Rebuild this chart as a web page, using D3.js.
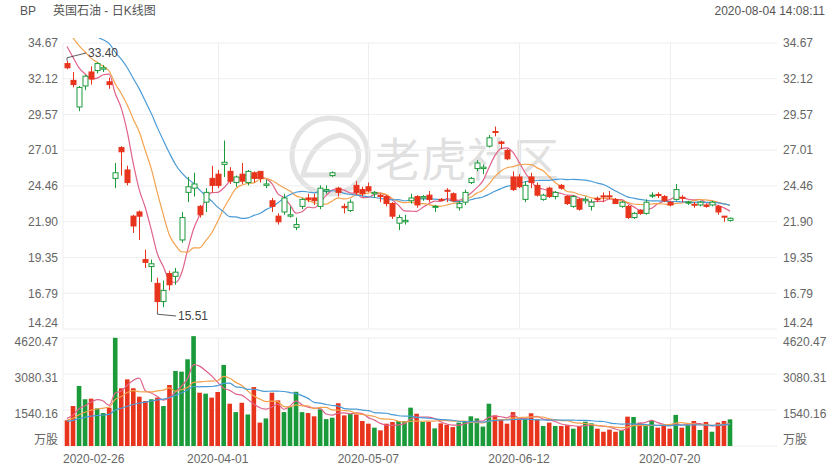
<!DOCTYPE html>
<html>
<head>
<meta charset="utf-8">
<script src="https://cdn.jsdelivr.net/npm/d3@7"></script>
<style>
  body { margin: 0; background: #fff; }
  text { font-family: Arial, "Liberation Sans", "Noto Sans CJK SC", sans-serif; }
</style>
</head>
<body>
<svg id="chart" width="840" height="470"></svg>
<script>
// daily candles, 2020-02-26 .. 2020-08-03
const opens = [33.2,32.0,30.1,31.6,32.6,32.7,32.8,31.9,25.0,27.2,25.6,22.3,22.6,19.2,18.7,17.5,16.2,18.2,18.0,20.6,
  24.0,24.3,23.0,23.3,25.0,25.3,26.0,25.5,24.7,25.3,24.7,25.4,25.5,24.5,23.4,22.3,22.6,22.3,21.5,23.0,
  23.6,23.6,23.0,24.1,25.2,24.3,23.0,22.7,24.5,24.2,24.4,23.9,23.8,23.7,23.2,21.8,21.9,23.4,23.7,23.6,
  23.8,22.95,23.5,24.15,23.9,22.9,23.3,24.7,25.7,25.7,27.3,28.35,27.6,27.0,25.1,25.1,23.5,25.1,24.5,23.5,
  24.3,23.7,24.5,23.7,23.0,23.5,23.4,23.0,23.55,23.75,23.75,23.5,23.0,23.0,22.2,22.7,22.5,23.75,23.85,23.7,
  23.3,23.5,23.65,23.25,23.15,23.1,23.1,23.1,23.0,22.3,22.0];
const highs = [33.4,32.6,31.6,32.4,33.0,33.3,33.1,32.2,26.1,27.3,25.9,22.4,22.7,19.9,19.2,17.9,17.7,18.4,18.6,22.6,
  25.1,25.4,23.1,24.3,25.9,25.6,27.7,25.8,25.2,26.1,25.6,25.5,25.5,24.9,23.6,22.5,23.9,23.0,22.2,23.6,
  23.9,23.9,24.5,24.5,25.5,24.4,23.2,23.5,24.8,24.4,24.7,24.1,23.9,23.8,23.3,22.4,22.4,23.9,23.8,23.8,
  24.1,23.1,23.6,24.3,24.0,23.4,24.2,25.1,26.3,26.0,28.1,28.7,27.7,27.1,25.5,25.3,24.8,25.4,24.7,23.9,
  24.4,24.1,24.6,23.8,23.8,23.6,23.7,23.5,23.7,24.0,24.1,23.6,23.4,23.1,22.6,22.8,23.5,24.0,24.0,23.8,
  23.4,24.6,23.8,23.4,23.3,23.4,23.2,23.4,23.1,22.3,22.2];
const lows = [32.8,31.5,29.8,31.3,31.7,32.5,32.6,31.4,24.3,25.2,24.5,21.1,20.6,18.6,17.6,15.51,15.8,17.0,17.4,20.4,
  23.3,23.7,22.2,22.6,24.0,24.3,25.1,24.6,24.4,24.6,24.5,24.7,24.7,24.3,22.6,21.7,22.4,22.2,21.3,22.8,
  23.3,23.1,22.8,23.9,25.1,23.7,22.5,22.6,23.8,23.7,24.0,23.6,23.3,23.0,22.1,21.3,21.7,23.2,22.9,23.4,
  23.3,22.6,23.4,23.3,23.3,22.7,23.1,24.6,25.5,25.3,27.2,28.0,27.1,26.3,24.1,24.3,23.3,24.3,23.7,23.4,
  23.6,23.5,24.2,23.1,22.9,22.7,23.2,22.7,23.3,23.3,23.5,23.2,22.9,22.1,22.1,22.4,22.4,23.6,23.6,23.3,
  23.0,23.4,23.3,23.1,22.9,23.0,22.9,23.0,22.4,21.9,21.9];
const closes = [32.9,31.7,31.5,32.3,32.1,33.2,32.9,31.7,25.4,26.9,24.7,21.6,22.3,19.0,18.9,16.2,17.0,17.4,18.3,22.2,
  24.4,24.6,22.4,24.0,24.5,24.5,26.15,24.8,25.1,24.8,25.5,25.0,25.0,24.6,23.0,21.9,23.6,22.4,21.7,23.5,
  23.5,23.4,24.3,24.2,25.4,24.0,22.9,23.3,24.0,23.9,24.1,24.0,23.7,23.2,22.3,22.2,22.0,23.6,23.1,23.7,
  23.5,23.0,23.45,24.1,23.4,23.2,24.0,25.0,26.1,25.8,27.9,28.3,27.5,26.4,24.2,24.4,24.5,24.7,23.8,23.8,
  23.7,24.0,24.3,23.2,23.7,22.8,23.5,23.3,23.5,23.7,23.7,23.2,23.3,22.2,22.5,22.5,23.3,23.8,23.8,23.4,
  23.1,24.2,23.6,23.3,23.1,23.3,23.0,23.3,22.6,22.25,22.15];
// volume, 万股
const volumes = [1100,1710,2570,2000,2025,1610,1410,1640,4630,2470,2850,2470,2110,1925,2000,2070,1710,2610,3210,3180,
  3710,4700,2280,2240,2070,2310,3470,1810,1450,1850,1350,2520,1000,1180,2280,1950,1450,1670,2320,1450,
  1410,1270,1570,1150,1210,1830,1310,1380,1350,1070,955,785,670,955,1030,1070,1070,1640,1380,1030,
  1040,755,970,910,810,1000,1070,1270,1180,830,1810,1310,1130,955,1450,1180,1180,1400,1140,855,
  1000,855,855,885,740,855,1040,970,740,610,700,610,670,1255,1240,1000,900,1070,785,855,
  740,1330,785,900,1070,685,1030,610,1000,1070,1140];
// sessions before 2020-02-26, only feed the moving averages
const prevCloses = [36.6,36.9,37.1,37.3,37.0,36.9,37.2,37.4,37.1,36.9,37.0,37.1,36.8,36.5,36.2,35.6,35.2,34.5,33.9];
const prevVolumes = [980,1050,1010,900,1120,990,1060,940,1000,1080,970,1030,950,1100,1150,1020,1200,1350,1250];

const holidays = ['2020-04-10', '2020-05-25', '2020-07-03'];
const dateLabels = ['2020-02-26', '2020-04-01', '2020-05-07', '2020-06-12', '2020-07-20'];
const priceTicks = [14.24, 16.79, 19.35, 21.90, 24.46, 27.01, 29.57, 32.12, 34.67];
const volTicks = [1540.16, 3080.31, 4620.47];
const maPeriods = [5, 10, 20];
const maColors = ['#e0638a', '#f4a24e', '#4a9bd6'];

const UP = '#1b9a3a', DOWN = '#e8341c', GRID = '#eeeeee', LABEL = '#666';

// trading calendar
const fmt = d3.timeFormat('%Y-%m-%d');
const dates = [];
for (let d = new Date(2020, 1, 26); dates.length < closes.length; d.setDate(d.getDate() + 1)) {
    const s = fmt(d);
    if (d.getDay() !== 0 && d.getDay() !== 6 && !holidays.includes(s)) dates.push(s);
}

const movingAvg = (prev, vals, n) => {
    const all = prev.concat(vals);
    return vals.map((v, i) => d3.mean(all.slice(prev.length + i - n + 1, prev.length + i + 1)));
};

const svg = d3.select('#chart');
const left = 63, right = 777;
const x = d3.scaleLinear().domain([0, closes.length - 1]).range([67, 730]);
const yP = d3.scaleLinear().domain([14.24, 34.67]).range([329, 43]);
const yV = d3.scaleLinear().domain([0, 4620.47]).range([446, 338]);

// header
svg.append('text').attr('x', 20).attr('y', 15).attr('font-size', 12).attr('fill', '#555').text('BP');
svg.append('text').attr('x', 53).attr('y', 15).attr('font-size', 12).attr('fill', '#555')
    .attr('font-family', '"Noto Sans CJK SC", sans-serif').text('英国石油 - 日K线图');
svg.append('text').attr('x', 825).attr('y', 15).attr('font-size', 12).attr('fill', '#555')
    .attr('text-anchor', 'end').text('2020-08-04 14:08:11');

// watermark
const wm = svg.append('g').attr('opacity', 0.16);
wm.append('circle').attr('cx', 330).attr('cy', 156).attr('r', 38).attr('fill', 'none').attr('stroke', '#555').attr('stroke-width', 5);
wm.append('path').attr('d', 'M303,175 Q312,140 340,135 Q362,140 358,162 L350,175 Z').attr('fill', 'none').attr('stroke', '#555').attr('stroke-width', 5);
wm.append('text').attr('x', 375).attr('y', 176).attr('font-size', 46).attr('fill', '#444')
    .attr('font-family', '"Noto Sans CJK SC", sans-serif').text('老虎社区');

// grids
const grid = svg.append('g').attr('stroke', GRID).attr('stroke-width', 1);
priceTicks.forEach(t => grid.append('line').attr('x1', left).attr('x2', right).attr('y1', yP(t)).attr('y2', yP(t)));
[0].concat(volTicks).forEach(t => grid.append('line').attr('x1', left).attr('x2', right).attr('y1', yV(t)).attr('y2', yV(t)));
dateLabels.forEach((s, k) => {
    const xx = k === 0 ? left : Math.round(x(dates.indexOf(s))) + 0.5;
    grid.append('line').attr('x1', xx).attr('x2', xx).attr('y1', yP(34.67)).attr('y2', yP(14.24));
    grid.append('line').attr('x1', xx).attr('x2', xx).attr('y1', yV(4620.47)).attr('y2', yV(0));
});

// axis labels
const axisText = (xx, yy, txt, anchor) => svg.append('text').attr('x', xx).attr('y', yy)
    .attr('font-size', 12).attr('fill', LABEL).attr('text-anchor', anchor).attr('dy', '0.35em').text(txt);
priceTicks.forEach(t => {
    const yy = Math.min(yP(t), 323);
    axisText(58, yy, t.toFixed(2), 'end');
    axisText(783, yy, t.toFixed(2), 'start');
});
volTicks.forEach(t => {
    axisText(58, yV(t) + 4, t.toFixed(2), 'end');
    axisText(783, yV(t) + 4, t.toFixed(2), 'start');
});
axisText(58, 440, '万股', 'end').attr('font-family', '"Noto Sans CJK SC", sans-serif');
axisText(783, 440, '万股', 'start').attr('font-family', '"Noto Sans CJK SC", sans-serif');
dateLabels.forEach((s, k) => {
    axisText(k === 0 ? 63 : x(dates.indexOf(s)), 459, s, k === 0 ? 'start' : 'middle');
});

// volume bars
const vg = svg.append('g');
volumes.forEach((v, i) => {
    const up = closes[i] >= opens[i];
    vg.append('rect').attr('x', x(i) - 2.3).attr('width', 4.6)
        .attr('y', yV(v)).attr('height', yV(0) - yV(v)).attr('fill', up ? UP : DOWN);
});

// moving averages
const line = (ys, data) => d3.line().x((d, i) => x(i)).y(d => ys(d)).curve(d3.curveMonotoneX)(data);
maPeriods.forEach((n, k) => {
    svg.append('path').attr('d', line(yV, movingAvg(prevVolumes, volumes, n)))
        .attr('fill', 'none').attr('stroke', maColors[k]).attr('stroke-width', 1.2);
});
svg.append('clipPath').attr('id', 'pclip').append('rect').attr('x', left).attr('y', 38).attr('width', right - left).attr('height', 295);
maPeriods.forEach((n, k) => {
    svg.append('path').attr('d', line(yP, movingAvg(prevCloses, closes, n))).attr('clip-path', 'url(#pclip)')
        .attr('fill', 'none').attr('stroke', maColors[k]).attr('stroke-width', 1.2);
});

// candles
const cg = svg.append('g');
closes.forEach((c, i) => {
    const o = opens[i], up = c >= o, col = up ? UP : DOWN;
    const cx = Math.round(x(i)) + 0.5;
    const top = yP(Math.max(o, c)), bot = yP(Math.min(o, c));
    cg.append('line').attr('x1', cx).attr('x2', cx).attr('y1', yP(highs[i])).attr('y2', yP(lows[i]))
        .attr('stroke', col).attr('stroke-width', 1);
    cg.append('rect').attr('x', cx - 2.5).attr('width', 5).attr('y', top).attr('height', Math.max(bot - top, 1))
        .attr('fill', up ? '#fff' : col).attr('stroke', col).attr('stroke-width', 1);
});

// high / low marks
const maxI = d3.maxIndex(highs), minI = d3.minIndex(lows);
const mark = (i, v, lx, ly) => {
    svg.append('polyline').attr('points', `${x(i)},${yP(v)} ${x(i)},${yP(v) + (ly > yP(v) ? 3 : -3)} ${lx - 2},${ly}`)
        .attr('fill', 'none').attr('stroke', '#333').attr('stroke-width', 0.8);
    svg.append('text').attr('x', lx).attr('y', ly).attr('dy', '0.35em').attr('font-size', 12).attr('fill', '#444').text(v.toFixed(2));
};
mark(maxI, highs[maxI], 88, 53);
mark(minI, lows[minI], 178, 316);
</script>
</body>
</html>
